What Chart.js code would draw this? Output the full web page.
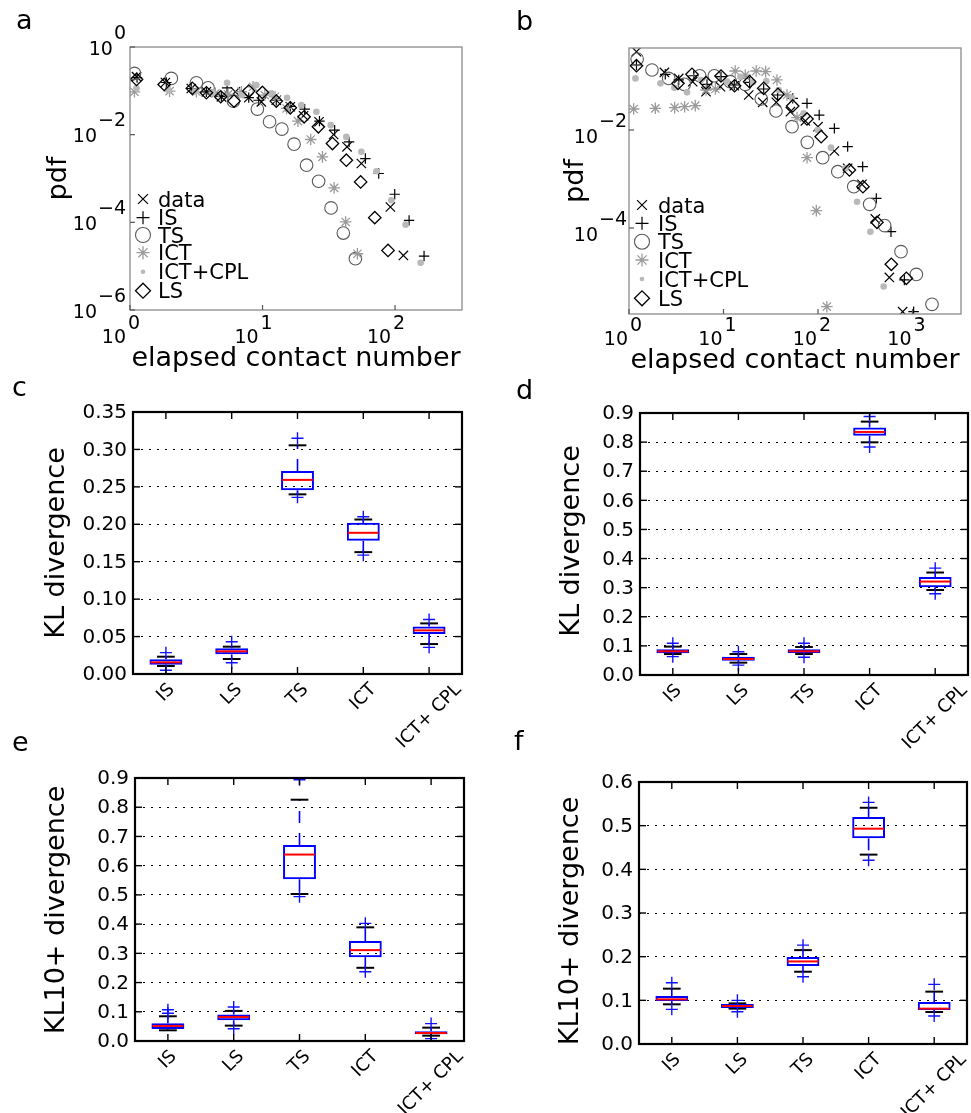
<!DOCTYPE html>
<html><head><meta charset="utf-8">
<script src="https://cdn.jsdelivr.net/npm/chart.js@4.4.0/dist/chart.umd.min.js"></script>
<style>
html,body{margin:0;padding:0;background:#fff;}
#wrap{position:relative;width:971px;height:1113px;overflow:hidden;background:#fff;}
canvas{position:absolute;left:0;top:0;}
</style></head><body><div id="wrap"></div>
<script>
// ---------------- Panel a: pdf vs elapsed contact number, [x, pdf] ----------------
const aData = [[1.12,0.21],[1.85,0.155],[2.9,0.113],[3.77,0.095],[4.89,0.073],[6.24,0.095],[7.87,0.0695],[9.8,0.056],[12.7,0.061],[16.2,0.0433],[20.4,0.027],[26.7,0.0197],[34.4,0.0101],[43.4,0.00527],[55.7,0.0022],[92.2,2.24e-4],[115.6,1.76e-5]];
const aIS = [[1.13,0.2],[1.88,0.155],[2.9,0.113],[3.77,0.095],[4.89,0.075],[5.4,0.117],[7.87,0.07],[9.35,0.061],[12.7,0.061],[16.2,0.044],[20.8,0.0383],[26.9,0.0204],[35,0.0127],[45,0.00686],[59.7,0.00285],[75.3,0.0013],[99.4,4.37e-4],[127.6,1.11e-4],[165.5,1.7e-5]];
const aTS = [[1.08,0.25],[2.05,0.192],[3.17,0.153],[3.88,0.117],[6.03,0.058],[9.14,0.0383],[11.3,0.0197],[14,0.0134],[17.3,0.00607],[21.5,0.00201],[26.5,8.65e-4],[32.9,2.13e-4],[40.7,5.7e-5],[50.2,1.48e-5]];
const aICT = [[1.08,0.095],[1.99,0.0986],[3.17,0.095],[4.41,0.0873],[5.5,0.0828],[6.92,0.0953],[8.48,0.124],[10.4,0.08],[12.4,0.0733],[15.2,0.0396],[18.5,0.0204],[23.1,0.00776],[28.3,0.00311],[34.7,6.1e-4],[42.4,1.02e-4],[52,1.92e-5]];
const aCPL = [[1.12,0.114],[1.94,0.104],[3.09,0.095],[4.2,0.09],[5.4,0.153],[7.0,0.08],[8.98,0.135],[11.7,0.0873],[15.3,0.0695],[19.6,0.0472],[25.5,0.0333],[32.7,0.0165],[42.9,0.0089],[55.7,0.00405],[72.3,0.00146],[93.8,3.18e-4],[120,8.85e-5],[156,1.2e-5]];
const aLS = [[1.12,0.182],[1.81,0.14],[2.95,0.114],[3.77,0.0904],[4.84,0.0733],[6.09,0.0583],[7.87,0.0986],[9.98,0.092],[12.7,0.0583],[16.2,0.041],[20.6,0.0256],[26.4,0.0151],[33.7,0.00628],[42.9,0.00261],[55,8.36e-4],[70.3,1.28e-4],[88.5,2.29e-5]];

// ---------------- Panel b ----------------
const bData = [[1.2,0.397],[2.37,0.150],[3.36,0.113],[4.72,0.097],[6.53,0.0605],[9.27,0.0766],[13,0.080],[18.5,0.0518],[26,0.0367],[36.2,0.0367],[51,0.0237],[73.5,0.0153],[100,0.0117],[149,0.00373],[206,0.00165],[292,7.78e-4],[404,1.53e-4],[569,9.8e-6],[787,1.96e-6]];
const bIS = [[1.2,0.212],[2.42,0.137],[3.36,0.105],[4.83,0.128],[6.69,0.0855],[9.41,0.1225],[13,0.0828],[18.9,0.094],[26.6,0.0687],[37.4,0.0518],[54,0.0443],[76.5,0.035],[103,0.0202],[149,0.0108],[206,0.00457],[297,0.00179],[414,4.03e-4],[592,8.41e-5],[820,8.7e-6],[1028,1.96e-6]];
const bTS = [[1.22,0.281],[1.75,0.1675],[2.63,0.113],[3.85,0.0855],[5.6,0.128],[8.0,0.128],[11.8,0.097],[17,0.0855],[25.1,0.043],[35.9,0.0244],[53.1,0.0117],[77.1,0.0056],[112,0.00272],[162,0.00141],[239,6.98e-4],[352,3.04e-4],[507,1.12e-4],[756,3.29e-5],[1098,1.13e-5],[1608,2.77e-6]];
const bICT = [[1.12,0.0268],[1.9,0.0277],[3.04,0.0286],[3.88,0.0299],[5.03,0.0314],[6.53,0.0655],[8.2,0.0687],[13.3,0.16],[17,0.132],[22.2,0.16],[27.9,0.155],[36.8,0.105],[47,0.0518],[60,0.0179],[76.5,0.00272],[96,2.26e-4],[124,2.48e-6]];
const bCPL = [[1.17,0.113],[2.15,0.0896],[3.02,0.073],[4.11,0.0587],[5.78,0.105],[10.9,0.097],[15.1,0.1225],[20.5,0.094],[28.4,0.1],[38.4,0.0655],[53.1,0.0443],[70.5,0.0219],[99.1,0.01],[137,0.00436],[195,0.00165],[259,3.44e-4],[358,8.4e-5],[495,6.4e-6]];
const bLS = [[1.2,0.2055],[3.3,0.0896],[4.64,0.137],[6.53,0.0925],[9.41,0.1265],[13.1,0.080],[18.9,0.097],[26.6,0.0708],[37.7,0.0534],[54,0.0309],[76.5,0.0168],[108,0.00731],[215,0.00153],[299,6.98e-4],[421,1.31e-4],[597,1.82e-5],[861,9.4e-6]];

const seriesNames = ['data','IS','TS','ICT','ICT+CPL','LS'];
const aXExp = [0,1,2], aYExp = [0,-2,-4,-6];
const bXExp = [0,1,2,3], bYExp = [-2,-4];

// ---------------- Box plots (c, d, e, f) ----------------
const boxCats = ['IS','LS','TS','ICT','ICT+ CPL'];
const cQ1 = [0.0125,0.0263,0.2455,0.1779,0.0534];
const cMed = [0.0156,0.0303,0.2593,0.1886,0.0583];
const cQ3 = [0.0196,0.0343,0.2713,0.2019,0.0636];
const cLo = [0.0107,0.020,0.240,0.1628,0.040];
const cHi = [0.0231,0.0365,0.3055,0.2064,0.0676];
const cOut = [[0.0285,0.005],[0.043,0.015],[0.315,0.236],[0.21,0.1588],[0.0729,0.0356]];

const dQ1 = [0.0745,0.0493,0.0745,0.822,0.3016];
const dMed = [0.0814,0.055,0.0814,0.8349,0.321];
const dQ3 = [0.0883,0.063,0.0883,0.85,0.337];
const dLo = [0.072,0.0424,0.072,0.7993,0.292];
const dHi = [0.0975,0.072,0.0963,0.8704,0.352];
const dOut = [[0.109,0.063],[0.08,0.034],[0.109,0.061],[0.888,0.783],[0.367,0.279]];

const eQ1 = [0.0412,0.0709,0.5535,0.287,0.0229];
const eMed = [0.0515,0.0823,0.638,0.311,0.0274];
const eQ3 = [0.0606,0.0903,0.671,0.342,0.0332];
const eLo = [0.0366,0.0526,0.503,0.2505,0.0183];
const eHi = [0.0846,0.103,0.8257,0.389,0.0457];
const eOut = [[0.107,0.095],[0.1166,0.042],[0.894,0.494],[0.4026,0.237],[0.0595,0.008]];

const fQ1 = [0.0984,0.0825,0.1785,0.471,0.0778];
const fMed = [0.1023,0.087,0.1891,0.4931,0.081];
const fQ3 = [0.1099,0.0916,0.199,0.52,0.0961];
const fLo = [0.0909,0.081,0.1655,0.4337,0.0733];
const fHi = [0.1267,0.093,0.215,0.541,0.1199];
const fOut = [[0.1404,0.0794],[0.1,0.074],[0.2264,0.154],[0.5533,0.4207],[0.1366,0.0642]];

// ---------------- rendering ----------------
const W = 971, H = 1113;
const FONT = '"DejaVu Sans", "Liberation Sans", sans-serif';

function makeCanvas() {
  const c = document.createElement('canvas');
  c.width = W; c.height = H; c.style.width = W + 'px'; c.style.height = H + 'px';
  document.getElementById('wrap').appendChild(c);
  return c;
}
function seg(ctx, x1, y1, x2, y2) { ctx.beginPath(); ctx.moveTo(x1, y1); ctx.lineTo(x2, y2); ctx.stroke(); }

const markerStyles = [
  {style:'crossRot', r:6.6, lr:7,  border:'#000',    bg:'rgba(0,0,0,0)', bw:1.2},
  {style:'cross',    r:5.2, lr:6.5,border:'#000',    bg:'rgba(0,0,0,0)', bw:1.2},
  {style:'circle',   r:6.3, lr:7.5,border:'#5a5a5a', bg:'rgba(0,0,0,0)', bw:1.1},
  {style:'star',     r:5.8, lr:6.5,border:'#9b9b9b', bg:'rgba(0,0,0,0)', bw:1.3},
  {style:'circle',   r:3.3, lr:2.3,border:'#b9b9b9', bg:'#b9b9b9',       bw:0},
  {style:'rectRot',  r:6.2, lr:7.5,border:'#000',    bg:'rgba(0,0,0,0)', bw:1.3}
];

function drawMarker(ctx, st, x, y, r) {
  ctx.save();
  ctx.strokeStyle = st.border; ctx.fillStyle = st.bg; ctx.lineWidth = st.bw;
  Chart.helpers.drawPoint(ctx, {pointStyle: st.style, radius: r, rotation: 0, borderWidth: st.bw}, x, y);
  ctx.restore();
}

function powLabelY(ctx, exp, xRight, y) {
  ctx.font = '19px ' + FONT;
  const e = String(exp).replace('-', '\u2212');
  const wb = ctx.measureText('10').width, we = ctx.measureText(e).width;
  ctx.textAlign = 'left'; ctx.textBaseline = 'alphabetic'; ctx.fillStyle = '#000';
  const xe = xRight - we, xb = xe - 1 - wb;
  ctx.fillText('10', xb, y + 7.5);
  ctx.fillText(e, xe, y - 8.5);
}
function powLabelX(ctx, exp, xc, yBase) {
  ctx.font = '19px ' + FONT;
  const e = String(exp).replace('-', '\u2212');
  const wb = ctx.measureText('10').width, we = ctx.measureText(e).width;
  ctx.textAlign = 'left'; ctx.textBaseline = 'alphabetic'; ctx.fillStyle = '#000';
  const tot = wb + 2 + we, x0 = xc - tot / 2;
  ctx.fillText('10', x0, yBase);
  ctx.fillText(e, x0 + wb + 2, yBase - 14);
}

function logChart(P, xMax, yMin, yMax, series, cfg) {
  const canvas = makeCanvas();
  const datasets = [];
  for (let i = series.length - 1; i >= 0; i--) {
    const st = markerStyles[i];
    datasets.push({
      label: seriesNames[i], data: series[i], showLine: false,
      pointStyle: st.style, pointRadius: st.r, pointBorderColor: st.border,
      pointBackgroundColor: st.bg, pointBorderWidth: st.bw
    });
  }
  const deco = {
    id: 'logdeco',
    afterDraw(chart) {
      const ctx = chart.ctx, xs = chart.scales.x, ys = chart.scales.y, a = chart.chartArea;
      ctx.save();
      ctx.strokeStyle = '#8a8a8a'; ctx.lineWidth = 1.3;
      ctx.strokeRect(a.left, a.top, a.right - a.left, a.bottom - a.top);
      ctx.strokeStyle = '#555'; ctx.lineWidth = 1.2;
      cfg.yExp.forEach(e => { const y = ys.getPixelForValue(Math.pow(10, e)); seg(ctx, a.left, y, a.left + 5, y); });
      cfg.xExp.forEach(e => { const x = xs.getPixelForValue(Math.pow(10, e)); seg(ctx, x, a.bottom, x, a.bottom - 5); });
      cfg.yExp.forEach(e => powLabelY(ctx, e, a.left - cfg.yLabGap, ys.getPixelForValue(Math.pow(10, e)) + cfg.yLabDy));
      cfg.xExp.forEach(e => powLabelX(ctx, e, xs.getPixelForValue(Math.pow(10, e)) - cfg.xShift, a.bottom + cfg.xLabBase));
      // legend
      seriesNames.forEach((name, i) => {
        const y = cfg.legY[i];
        drawMarker(ctx, markerStyles[i], cfg.legMX, y, markerStyles[i].lr);
        ctx.fillStyle = '#000'; ctx.textAlign = 'left'; ctx.textBaseline = 'alphabetic';
        ctx.font = '21px ' + FONT;
        ctx.fillText(name, cfg.legTX, y + 7.5);
      });
      // axis titles
      ctx.fillStyle = '#000'; ctx.font = '27px ' + FONT; ctx.textAlign = 'center'; ctx.textBaseline = 'alphabetic';
      ctx.fillText('elapsed contact number', (a.left + a.right) / 2, cfg.xTitleBase);
      ctx.save(); ctx.translate(cfg.yTitleX, (a.top + a.bottom) / 2); ctx.rotate(-Math.PI / 2);
      ctx.fillText('pdf', 0, 0); ctx.restore();
      ctx.textAlign = 'left'; ctx.fillText(cfg.letter, cfg.letX, cfg.letY);
      ctx.restore();
    }
  };
  return new Chart(canvas, {
    type: 'scatter',
    data: { datasets },
    options: {
      responsive: false, animation: false, events: [], devicePixelRatio: 1,
      layout: { padding: { left: P.L, top: P.T, right: W - P.R, bottom: H - P.B }, autoPadding: false },
      plugins: { legend: { display: false }, tooltip: { enabled: false } },
      scales: {
        x: { type: 'logarithmic', min: 1, max: xMax, ticks: { display: false }, grid: { display: false, drawTicks: false }, border: { display: false }, afterFit(s) { s.height = 0; } },
        y: { type: 'logarithmic', min: yMin, max: yMax, ticks: { display: false }, grid: { display: false, drawTicks: false }, border: { display: false }, afterFit(s) { s.width = 0; } }
      }
    },
    plugins: [deco]
  });
}

function boxChart(P, st, yMax, step, dec, cfg) {
  const canvas = makeCanvas();
  const fl = [];
  st.out.forEach((arr, i) => arr.forEach(v => fl.push({ x: boxCats[i], y: v })));
  const deco = {
    id: 'boxdeco',
    beforeDatasetsDraw(chart) {
      const ctx = chart.ctx, xs = chart.scales.x, ys = chart.scales.y;
      const cw = xs.getPixelForValue(1) - xs.getPixelForValue(0);
      ctx.save();
      for (let i = 0; i < boxCats.length; i++) {
        const x = xs.getPixelForValue(i);
        const yq1 = ys.getPixelForValue(st.q1[i]), yq3 = ys.getPixelForValue(st.q3[i]);
        const ylo = ys.getPixelForValue(st.lo[i]), yhi = ys.getPixelForValue(st.hi[i]);
        ctx.strokeStyle = '#0000ff'; ctx.lineWidth = 1.6; ctx.setLineDash([12, 10]);
        seg(ctx, x, yq3, x, yhi); seg(ctx, x, yq1, x, ylo);
        ctx.setLineDash([]); ctx.strokeStyle = '#000'; ctx.lineWidth = 2;
        const hw = cw * 0.135;
        seg(ctx, x - hw, yhi, x + hw, yhi); seg(ctx, x - hw, ylo, x + hw, ylo);
      }
      ctx.restore();
    },
    afterDatasetsDraw(chart) {
      const ctx = chart.ctx, xs = chart.scales.x, ys = chart.scales.y;
      const cw = xs.getPixelForValue(1) - xs.getPixelForValue(0);
      ctx.save(); ctx.strokeStyle = '#ff0000'; ctx.lineWidth = 2;
      for (let i = 0; i < boxCats.length; i++) {
        const x = xs.getPixelForValue(i), y = ys.getPixelForValue(st.med[i]);
        seg(ctx, x - cw * 0.25 + 1, y, x + cw * 0.25 - 1, y);
      }
      ctx.restore();
    },
    afterDraw(chart) {
      const ctx = chart.ctx, xs = chart.scales.x, ys = chart.scales.y, a = chart.chartArea;
      ctx.save();
      ctx.strokeStyle = '#000'; ctx.lineWidth = 1.4;
      ys.ticks.forEach(t => { const y = ys.getPixelForValue(t.value); seg(ctx, a.left, y, a.left + 7, y); seg(ctx, a.right, y, a.right - 7, y); });
      for (let i = 0; i < boxCats.length; i++) { const x = xs.getPixelForValue(i); seg(ctx, x, a.top, x, a.top + 7); seg(ctx, x, a.bottom, x, a.bottom - 7); }
      ctx.lineWidth = 2.2; ctx.strokeRect(a.left, a.top, a.right - a.left, a.bottom - a.top);
      // y tick labels from the scale's ticks
      ctx.font = '20px ' + FONT; ctx.fillStyle = '#000'; ctx.textAlign = 'right'; ctx.textBaseline = 'middle';
      ys.ticks.forEach(t => ctx.fillText(Number(t.value).toFixed(dec), a.left - 6, ys.getPixelForValue(t.value) + 1));
      // rotated category labels
      const fs = 18;
      ctx.font = fs + 'px ' + FONT; ctx.textAlign = 'center'; ctx.textBaseline = 'middle';
      boxCats.forEach((lab, i) => {
        const x = xs.getPixelForValue(i);
        const Lt = ctx.measureText(lab).width;
        const cy = a.bottom + 8 + (Lt + 0.75 * fs) / (2 * Math.SQRT2);
        ctx.save(); ctx.translate(x, cy); ctx.rotate(-Math.PI / 4); ctx.fillText(lab, 0, 0); ctx.restore();
      });
      ctx.font = '27px ' + FONT; ctx.textBaseline = 'alphabetic'; ctx.textAlign = 'center';
      ctx.save(); ctx.translate(cfg.yTitleX, cfg.yTitleY); ctx.rotate(-Math.PI / 2); ctx.fillText(cfg.title, 0, 0); ctx.restore();
      ctx.textAlign = 'left'; ctx.fillText(cfg.letter, cfg.letX, cfg.letY);
      ctx.restore();
    }
  };
  return new Chart(canvas, {
    type: 'bar',
    data: {
      labels: boxCats,
      datasets: [
        { type: 'line', data: fl, showLine: false, pointStyle: 'cross', pointRadius: 6, pointBorderColor: '#1010ff', pointBackgroundColor: 'rgba(0,0,0,0)', pointBorderWidth: 1.4 },
        { type: 'bar', data: st.q1.map((v, i) => [v, st.q3[i]]), backgroundColor: 'rgba(0,0,0,0)', borderColor: '#0000ff', borderWidth: 2, borderSkipped: false, barPercentage: 0.5, categoryPercentage: 1, grouped: false }
      ]
    },
    options: {
      responsive: false, animation: false, events: [], devicePixelRatio: 1,
      layout: { padding: { left: P.L, top: P.T, right: W - P.R, bottom: H - P.B }, autoPadding: false },
      plugins: { legend: { display: false }, tooltip: { enabled: false } },
      scales: {
        x: { type: 'category', offset: true, ticks: { display: false }, grid: { display: false, drawTicks: false }, border: { display: false }, afterFit(s) { s.height = 0; } },
        y: { type: 'linear', min: 0, max: yMax,
             ticks: { stepSize: step, display: false },
             grid: { drawTicks: false, lineWidth: 1, color: c => (c.tick && (Math.abs(c.tick.value) < 1e-9 || Math.abs(c.tick.value - yMax) < 1e-9)) ? 'rgba(0,0,0,0)' : '#000' },
             border: { display: false, dash: [2, 6] },
             afterFit(s) { s.width = 0; } }
      }
    },
    plugins: [deco]
  });
}

logChart({L:130, T:47, R:462, B:310}, 320, 1e-6, 1, [aData, aIS, aTS, aICT, aCPL, aLS],
  { xExp: aXExp, yExp: aYExp, yLabGap: 4, yLabDy: 0, xShift: 9, xLabBase: 33, legMX: 143, legTX: 158,
    legY: [199, 217.7, 235, 252.7, 271.7, 290.7], xTitleBase: 366, yTitleX: 66, letter: 'a', letX: 16, letY: 29 });
logChart({L:629, T:48, R:961, B:314}, 3260, 1.758e-6, 0.4715, [bData, bIS, bTS, bICT, bCPL, bLS],
  { xExp: bXExp, yExp: bYExp, yLabGap: 2, yLabDy: 5, xShift: 6, xLabBase: 31, legMX: 642, legTX: 658,
    legY: [205, 223.3, 241.7, 260, 279, 298.3], xTitleBase: 368, yTitleX: 583, letter: 'b', letX: 516, letY: 30 });

boxChart({L:133, T:412, R:462, B:674}, {q1:cQ1, med:cMed, q3:cQ3, lo:cLo, hi:cHi, out:cOut}, 0.35, 0.05, 2,
  { title: 'KL divergence', yTitleX: 64, yTitleY: 543, letter: 'c', letX: 12, letY: 396 });
boxChart({L:640, T:413, R:968, B:675}, {q1:dQ1, med:dMed, q3:dQ3, lo:dLo, hi:dHi, out:dOut}, 0.9, 0.1, 1,
  { title: 'KL divergence', yTitleX: 579, yTitleY: 541, letter: 'd', letX: 516, letY: 399 });
boxChart({L:135, T:778, R:464, B:1041}, {q1:eQ1, med:eMed, q3:eQ3, lo:eLo, hi:eHi, out:eOut}, 0.9, 0.1, 1,
  { title: 'KL10+ divergence', yTitleX: 64, yTitleY: 910, letter: 'e', letX: 12, letY: 751 });
boxChart({L:639, T:782, R:967, B:1044}, {q1:fQ1, med:fMed, q3:fQ3, lo:fLo, hi:fHi, out:fOut}, 0.6, 0.1, 1,
  { title: 'KL10+ divergence', yTitleX: 578, yTitleY: 921, letter: 'f', letX: 514, letY: 750 });
</script>
</body></html>
